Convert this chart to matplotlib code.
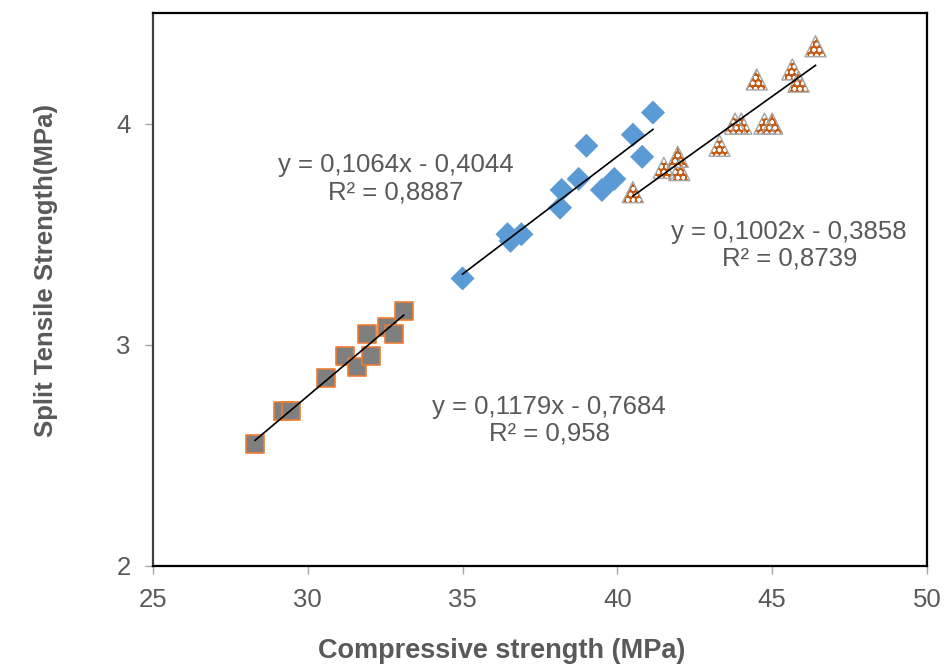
"""Split tensile vs compressive strength scatter with linear trendlines."""

import matplotlib

matplotlib.use("Agg")
import matplotlib.pyplot as plt
import numpy as np

plt.rcParams["font.family"] = ["Liberation Sans", "DejaVu Sans"]

# --- group 1: grey squares ---
sq_x = [28.3, 29.2, 29.45, 30.6, 31.2, 31.6, 32.05, 31.9, 32.55, 32.8, 33.1]
sq_y = [2.55, 2.70, 2.70, 2.85, 2.95, 2.90, 2.95, 3.05, 3.08, 3.05, 3.155]
sq_fit = [0.1179, -0.7684]

# --- group 2: blue diamonds ---
dm_x = [35.0, 36.45, 36.55, 36.9, 38.15, 38.2, 38.75, 39.0, 39.5, 39.9, 40.5, 40.8, 41.15]
dm_y = [3.30, 3.50, 3.47, 3.50, 3.62, 3.70, 3.75, 3.90, 3.70, 3.75, 3.95, 3.85, 4.05]
dm_fit = [0.1064, -0.4044]

# --- group 3: orange dotted triangles ---
tr_x = [40.5, 41.5, 41.95, 42.0, 43.3, 43.8, 44.0, 44.5, 44.75, 45.0, 45.65, 45.85, 46.4]
tr_y = [3.69, 3.80, 3.85, 3.79, 3.90, 4.00, 4.00, 4.20, 4.00, 4.00, 4.245, 4.19, 4.35]
tr_fit = [0.1002, -0.3858]

eq_texts = [
    "y = 0,1179x - 0,7684\nR² = 0,958",
    "y = 0,1064x - 0,4044\nR² = 0,8887",
    "y = 0,1002x - 0,3858\nR² = 0,8739",
]
eq_pos = [(37.8, 2.66), (32.85, 3.75), (45.55, 3.45)]

TXT = "#595959"

fig = plt.figure(figsize=(9.44, 6.68), dpi=100)
ax = fig.add_axes([0.162, 0.1527, 0.820, 0.8278])

ax.scatter(sq_x, sq_y, marker="s", s=180, facecolor="#7F7F7F",
           edgecolor="#ED7D31", linewidth=1.2, zorder=3)
ax.scatter(dm_x, dm_y, marker="D", s=150, facecolor="#5B9BD5",
           edgecolor="none", zorder=3)
# dotted fill: orange face with white dot hatch, then a grey outline on top
ax.scatter(tr_x, tr_y, marker="^", s=230, facecolor="#C55A11",
           edgecolor="white", linewidth=0, hatch="ooo", zorder=3)
ax.scatter(tr_x, tr_y, marker="^", s=230, facecolor="none",
           edgecolor="#A6A6A6", linewidth=1.0, zorder=4)

for xs, fit in [(sq_x, sq_fit), (dm_x, dm_fit), (tr_x, tr_fit)]:
    xx = np.array([min(xs), max(xs)])
    ax.plot(xx, fit[0] * xx + fit[1], color="black", linewidth=1.2, zorder=5)

for txt, (tx, ty) in zip(eq_texts, eq_pos):
    ax.text(tx, ty, txt, ha="center", va="center", multialignment="center",
            fontsize=18.5, color=TXT, linespacing=1.15, zorder=6)

ax.set_xlim(25, 50)
ax.set_ylim(2, 4.5)
ax.set_xticks([25, 30, 35, 40, 45, 50])
ax.set_yticks([2, 3, 4])
ax.tick_params(axis="both", direction="out", length=6, width=1,
               color="#A6A6A6", labelsize=18.5, labelcolor=TXT, pad=10)

for side in ["top", "right", "bottom"]:
    ax.spines[side].set_color("black")
    ax.spines[side].set_linewidth(1.6)
ax.spines["left"].set_color("#404040")
ax.spines["left"].set_linewidth(1.6)

ax.set_xlabel("Compressive strength (MPa)", fontsize=19.5, fontweight="bold",
              color=TXT)
ax.xaxis.set_label_coords(0.451, -0.13)
ax.set_ylabel("Split Tensile Strength(MPa)", fontsize=18.5, fontweight="bold",
              color=TXT)
ax.yaxis.set_label_coords(-0.122, 0.535)

fig.savefig("out.png", dpi=100)
